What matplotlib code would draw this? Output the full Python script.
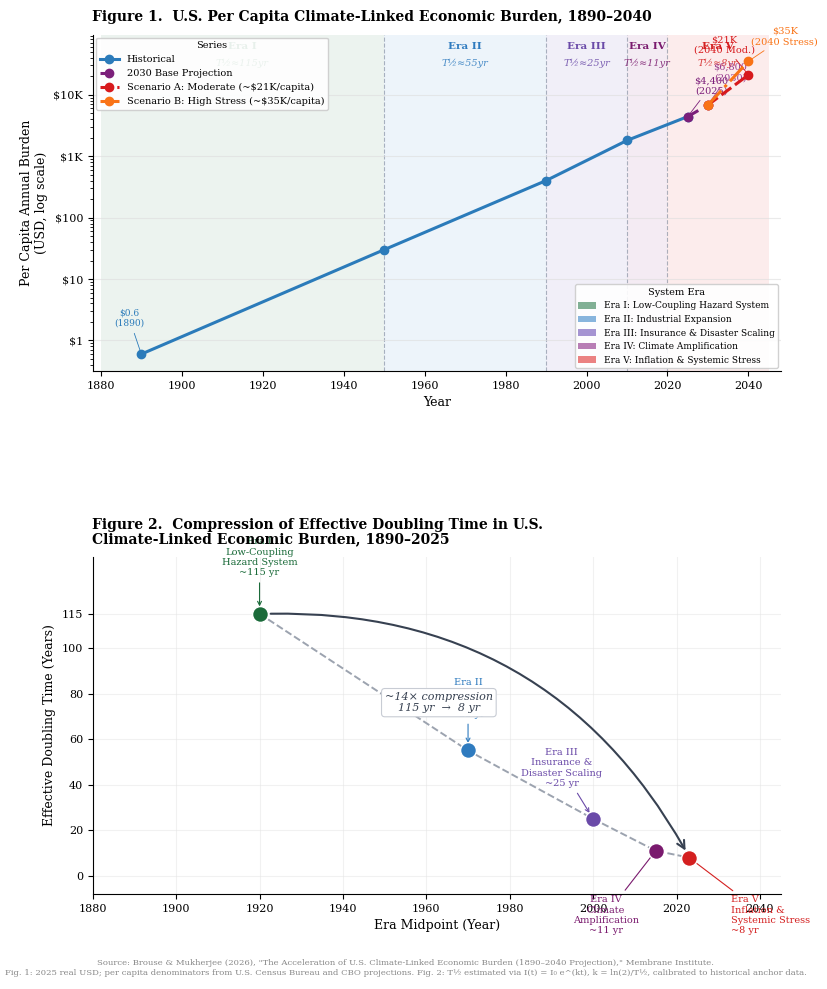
import matplotlib.pyplot as plt
from matplotlib.patches import Patch
from matplotlib.ticker import FixedLocator, FuncFormatter
import matplotlib.transforms as mtransforms

plt.rcParams['font.family'] = ['DejaVu Serif']

# --- data ---
hist_years = [1890, 1950, 1990, 2010, 2025]
hist_vals = [0.6, 30, 400, 1800, 4400]
base_years = [2025, 2030]
base_vals = [4400, 6800]
scen_a_years = [2030, 2040]
scen_a_vals = [6800, 21000]
scen_b_years = [2030, 2040]
scen_b_vals = [6800, 35000]

era_names = ["Era I", "Era II", "Era III", "Era IV", "Era V"]
era_starts = [1880, 1950, 1990, 2010, 2020]
era_ends = [1950, 1990, 2010, 2020, 2045]
era_desc = ["Low-Coupling Hazard System", "Industrial Expansion",
            "Insurance & Disaster Scaling", "Climate Amplification",
            "Inflation & Systemic Stress"]
era_halflife = [115, 55, 25, 11, 8]
era_mid = [1920, 1970, 2000, 2015, 2023]
era_labels2 = ["Era I\nLow-Coupling\nHazard System\n~115 yr",
               "Era II\nIndustrial\nExpansion\n~55 yr",
               "Era III\nInsurance &\nDisaster Scaling\n~25 yr",
               "Era IV\nClimate\nAmplification\n~11 yr",
               "Era V\nInflation &\nSystemic Stress\n~8 yr"]

era_fill = ['#2e7d4f', '#3a86c8', '#6b4fb5', '#8a2a85', '#e03030']
era_text = ['#1b6b3a', '#2f7bbf', '#6a4aa8', '#7a1a6e', '#d42020']

c_hist = '#2b7bba'
c_base = '#7b1f7a'
c_a = '#d7191c'
c_b = '#f97316'

fig = plt.figure(figsize=(8.28, 9.89), dpi=100)

# ---------------- Figure 1 ----------------
ax1 = fig.add_axes([0.112, 0.625, 0.831, 0.340])
for i in range(len(era_names)):
    ax1.axvspan(era_starts[i], era_ends[i], color=era_fill[i], alpha=0.09, lw=0, zorder=0)
for x in era_starts[1:]:
    ax1.axvline(x, color='#8a94a6', ls='--', lw=0.8, alpha=0.7, zorder=1)

trans = mtransforms.blended_transform_factory(ax1.transData, ax1.transAxes)
for i in range(len(era_names)):
    mid = (era_starts[i] + era_ends[i]) / 2
    ax1.text(mid, 0.965, era_names[i], transform=trans, ha='center', va='center',
             fontsize=7.5, fontweight='bold', color=era_text[i], zorder=2)
    ax1.text(mid, 0.915, "T½≈%dyr" % era_halflife[i], transform=trans, ha='center',
             va='center', fontsize=7, style='italic', color=era_text[i], alpha=0.85, zorder=2)

ax1.plot(hist_years, hist_vals, color=c_hist, lw=2.2, marker='o', ms=6, label='Historical', zorder=4)
ax1.plot(base_years, base_vals, color=c_base, lw=2.2, ls=(0, (4, 6)), marker='o', ms=6,
         label='2030 Base Projection', zorder=4)
ax1.plot(scen_a_years, scen_a_vals, color=c_a, lw=2.2, ls=(0, (4, 1.5)), marker='o', ms=6,
         label='Scenario A: Moderate (~$21K/capita)', zorder=5)
ax1.plot(scen_b_years, scen_b_vals, color=c_b, lw=2.2, ls='-.', marker='o', ms=6,
         label='Scenario B: High Stress (~$35K/capita)', zorder=6)

ax1.annotate("$0.6\n(1890)", xy=(1890, 0.6), xytext=(1887, 2.3), ha='center', va='center',
             fontsize=6.5, color=c_hist, arrowprops=dict(arrowstyle='-', color=c_hist, lw=0.6))
ax1.annotate("$4,400\n(2025)", xy=(2025, 4400), xytext=(2030.8, 14000), ha='center', va='center',
             fontsize=7, color=c_base, arrowprops=dict(arrowstyle='-', color=c_base, lw=0.6))
ax1.annotate("$6,800\n(2030)", xy=(2030, 6800), xytext=(2035.5, 23000), ha='center', va='center',
             fontsize=7, color='#9b3f8f', arrowprops=dict(arrowstyle='-', color='#9b3f8f', lw=0.6))
ax1.annotate("$21K\n(2040 Mod.)", xy=(2040, 21000), xytext=(2034, 65000), ha='center', va='center',
             fontsize=7, color=c_a, arrowprops=dict(arrowstyle='-', color=c_a, lw=0.6),
             annotation_clip=False)
ax1.annotate("$35K\n(2040 Stress)", xy=(2040, 35000), xytext=(2049, 88000), ha='center', va='center',
             fontsize=7, color=c_b, arrowprops=dict(arrowstyle='-', color=c_b, lw=0.6),
             annotation_clip=False)

ax1.set_yscale('log')
ax1.set_xlim(1878, 2048)
ax1.set_ylim(0.32, 9.5e4)
ax1.yaxis.set_major_locator(FixedLocator([1, 10, 100, 1000, 10000]))
ax1.yaxis.set_major_formatter(FuncFormatter(
    lambda v, p: {1: '$1', 10: '$10', 100: '$100', 1000: '$1K', 10000: '$10K'}.get(int(round(v)), '')))
ax1.set_xticks(range(1880, 2041, 20))
ax1.tick_params(labelsize=8)
ax1.grid(axis='y', which='major', color='#dddddd', lw=0.8, alpha=0.6)
ax1.spines['top'].set_visible(False)
ax1.spines['right'].set_visible(False)
ax1.set_xlabel("Year", fontsize=9)
ax1.set_ylabel("Per Capita Annual Burden\n(USD, log scale)", fontsize=9)

leg1 = ax1.legend(loc='upper left', title='Series', fontsize=7, title_fontsize=7,
                  framealpha=0.9, borderaxespad=0.3)
ax1.add_artist(leg1)
era_handles = [Patch(facecolor=era_fill[i], alpha=0.6, label="%s: %s" % (era_names[i], era_desc[i]))
               for i in range(len(era_names))]
ax1.legend(handles=era_handles, loc='lower right', title='System Era', fontsize=6.5,
           title_fontsize=7, framealpha=0.9, borderaxespad=0.3)

fig.text(0.111, 0.983, "Figure 1.  U.S. Per Capita Climate-Linked Economic Burden, 1890–2040",
         fontsize=10, fontweight='bold', ha='left', va='center')

# ---------------- Figure 2 ----------------
ax2 = fig.add_axes([0.112, 0.096, 0.831, 0.341])
ax2.plot(era_mid, era_halflife, color='#9ca3af', ls='--', lw=1.4, zorder=2)
for i in range(len(era_mid)):
    ax2.scatter(era_mid[i], era_halflife[i], s=130, color=era_text[i], edgecolor='white',
                lw=1, zorder=5)

ax2.annotate("", xy=(era_mid[-1] - 0.5, era_halflife[-1] + 2), xytext=(era_mid[0] + 2, era_halflife[0]),
             arrowprops=dict(arrowstyle='->', color='#374151', lw=1.5,
                             connectionstyle='arc3,rad=-0.3', mutation_scale=14), zorder=3)

ax2.annotate(era_labels2[0], xy=(era_mid[0], era_halflife[0] + 2), xytext=(era_mid[0], 131),
             ha='center', va='bottom', fontsize=7, color=era_text[0], annotation_clip=False,
             arrowprops=dict(arrowstyle='->', color=era_text[0], lw=0.8))
ax2.annotate(era_labels2[1], xy=(era_mid[1], era_halflife[1] + 2), xytext=(era_mid[1], 69),
             ha='center', va='bottom', fontsize=7, color=era_text[1],
             arrowprops=dict(arrowstyle='->', color=era_text[1], lw=0.8))
ax2.annotate(era_labels2[2], xy=(era_mid[2] - 0.5, era_halflife[2] + 1.5), xytext=(1992.5, 38.5),
             ha='center', va='bottom', fontsize=7, color=era_text[2],
             arrowprops=dict(arrowstyle='->', color=era_text[2], lw=0.8))
ax2.annotate(era_labels2[3], xy=(era_mid[3], era_halflife[3]), xytext=(2003, -8.5),
             ha='center', va='top', fontsize=7, color=era_text[3], annotation_clip=False,
             arrowprops=dict(arrowstyle='-', color=era_text[3], lw=0.8))
ax2.annotate(era_labels2[4], xy=(era_mid[4], era_halflife[4]), xytext=(2033, -8.5),
             ha='left', va='top', fontsize=7, color=era_text[4], annotation_clip=False,
             arrowprops=dict(arrowstyle='-', color=era_text[4], lw=0.8, relpos=(0.1, 1)))

ax2.text(1963, 76, "~14× compression\n115 yr  →  8 yr", ha='center', va='center', fontsize=8,
         style='italic', color='#374151', zorder=6,
         bbox=dict(boxstyle='round,pad=0.3', facecolor='white', edgecolor='#c8ccd4', lw=0.8))

ax2.set_xlim(1880, 2045)
ax2.set_ylim(-8, 140)
ax2.set_yticks([0, 20, 40, 60, 80, 100, 115])
ax2.set_xticks(range(1880, 2041, 20))
ax2.tick_params(labelsize=8)
ax2.grid(True, color='#e5e5e5', lw=0.8, alpha=0.5)
ax2.spines['top'].set_visible(False)
ax2.spines['right'].set_visible(False)
ax2.set_xlabel("Era Midpoint (Year)", fontsize=9)
ax2.set_ylabel("Effective Doubling Time (Years)", fontsize=9)

fig.text(0.111, 0.462, "Figure 2.  Compression of Effective Doubling Time in U.S.\n"
         "Climate-Linked Economic Burden, 1890–2025",
         fontsize=10, fontweight='bold', ha='left', va='center', linespacing=1.1)

fig.text(0.49, 0.0215, 'Source: Brouse & Mukherjee (2026), "The Acceleration of U.S. Climate-Linked '
         'Economic Burden (1890–2040 Projection)," Membrane Institute.\n'
         'Fig. 1: 2025 real USD; per capita denominators from U.S. Census Bureau and CBO projections. '
         'Fig. 2: T½ estimated via I(t) = I₀ e^(kt), k = ln(2)/T½, calibrated to historical anchor data.',
         ha='center', va='center', fontsize=6.1, color='#888888', linespacing=1.3)

fig.savefig('out.png', dpi=100)
